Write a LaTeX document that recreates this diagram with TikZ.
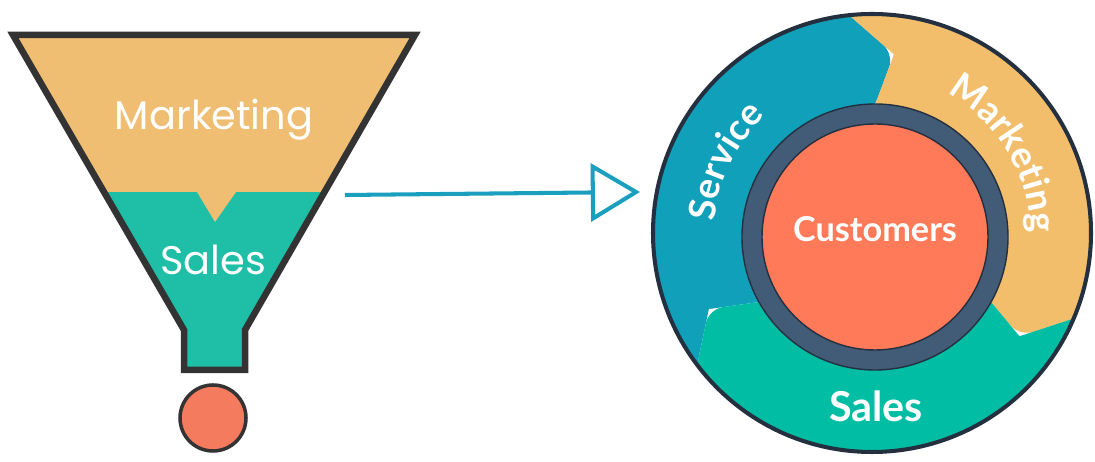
\documentclass[tikz,border=0pt]{standalone}
\usepackage{fontspec}
\setmainfont{Lato}
\newfontfamily\funnelfont{Poppins}
\usetikzlibrary{arrows.meta,decorations.text}

\definecolor{funnelorange}{RGB}{239,190,114}
\definecolor{funnelteal}{RGB}{30,191,166}
\definecolor{funnelline}{RGB}{51,51,51}
\definecolor{ballred}{RGB}{244,123,93}
\definecolor{arrowblue}{RGB}{26,160,190}
\definecolor{serviceblue}{RGB}{17,160,185}
\definecolor{marketingorange}{RGB}{242,190,107}
\definecolor{salesgreen}{RGB}{0,189,163}
\definecolor{ringslate}{RGB}{66,91,118}
\definecolor{customercoral}{RGB}{255,122,89}
\definecolor{wheelline}{RGB}{36,48,64}

\tikzset{
  funneltext/.style={text=white, anchor=base, font=\funnelfont\fontsize{22.7}{26}\selectfont},
  wheeltext/.style={text=white, anchor=base, font=\bfseries\fontsize{19.5}{23}\selectfont},
  wheelarc/.style={decorate, decoration={text along path, text align=center, text color=white,
    text={|\bfseries\fontsize{21}{25}\selectfont|#1}}},
}

\begin{document}
\begin{tikzpicture}[x=0.02cm, y=0.02cm]
  \useasboundingbox (0,0) rectangle (1095,462);
  % funnel
  \fill[funnelteal] (13,427) -- (415,427) -- (245,132) -- (245,92) -- (184,92) -- (184,132) -- cycle;
  \fill[funnelorange] (13,427) -- (415,427) -- (324.5,270) -- (236,270) -- (215,240) -- (197,270) -- (104,270) -- cycle;
  \draw[funnelline, line width=3.7pt] (13,427) -- (415,427) -- (245,132) -- (245,92) -- (184,92) -- (184,132) -- cycle;
  \draw[funnelline, fill=ballred, line width=2pt] (213,44) circle[radius=33];
  \node[funneltext] (fmarketing) at (214,332) {Marketing};
  \node[funneltext] (fsales) at (213,187) {Sales};
  % arrow
  \coordinate (arrtail) at (345,267);
  \coordinate (arrhead) at (640,270);
  \draw[arrowblue, line width=2.3pt, -{Triangle[open, length=28pt, width=33pt]}] (arrtail) -- (arrhead);
  % flywheel
  \begin{scope}[shift={(872,229)}]
    \foreach \segcol/\ai/\at/\ao/\bi/\bt/\bo in {serviceblue/214/205/217/90/83/96,
        marketingorange/90/83/96/-27/-35/-23, salesgreen/-27/-35/-23/-146/-155/-143}
      \fill[\segcol] (\ao:219) arc[start angle=\ao, end angle=\bo, radius=219]
        [rounded corners=8pt] -- (\bt:180) -- (\bi:120) [sharp corners]
        arc[start angle=\bi, end angle=\ai, radius=120] -- (\at:180) -- cycle;
    \draw[wheelline, line width=2.3pt] (0,0) circle[radius=219];
    \draw[wheelline, fill=ringslate, line width=0.8pt] (3,-4) circle[radius=133];
    \draw[wheelline, fill=customercoral, line width=0.8pt] (3,-4) circle[radius=113];
    \path[wheelarc=Marketing] (71:158) arc[start angle=71, end angle=-9, radius=158];
    \path[wheelarc=Service] (194:158) arc[start angle=194, end angle=114, radius=158];
    \node[wheeltext] (customers) at (3,-9) {Customers};
    \node[wheeltext, font=\bfseries\fontsize{23.5}{27}\selectfont] (wsales) at (4,-189) {Sales};
  \end{scope}
\end{tikzpicture}
\end{document}
